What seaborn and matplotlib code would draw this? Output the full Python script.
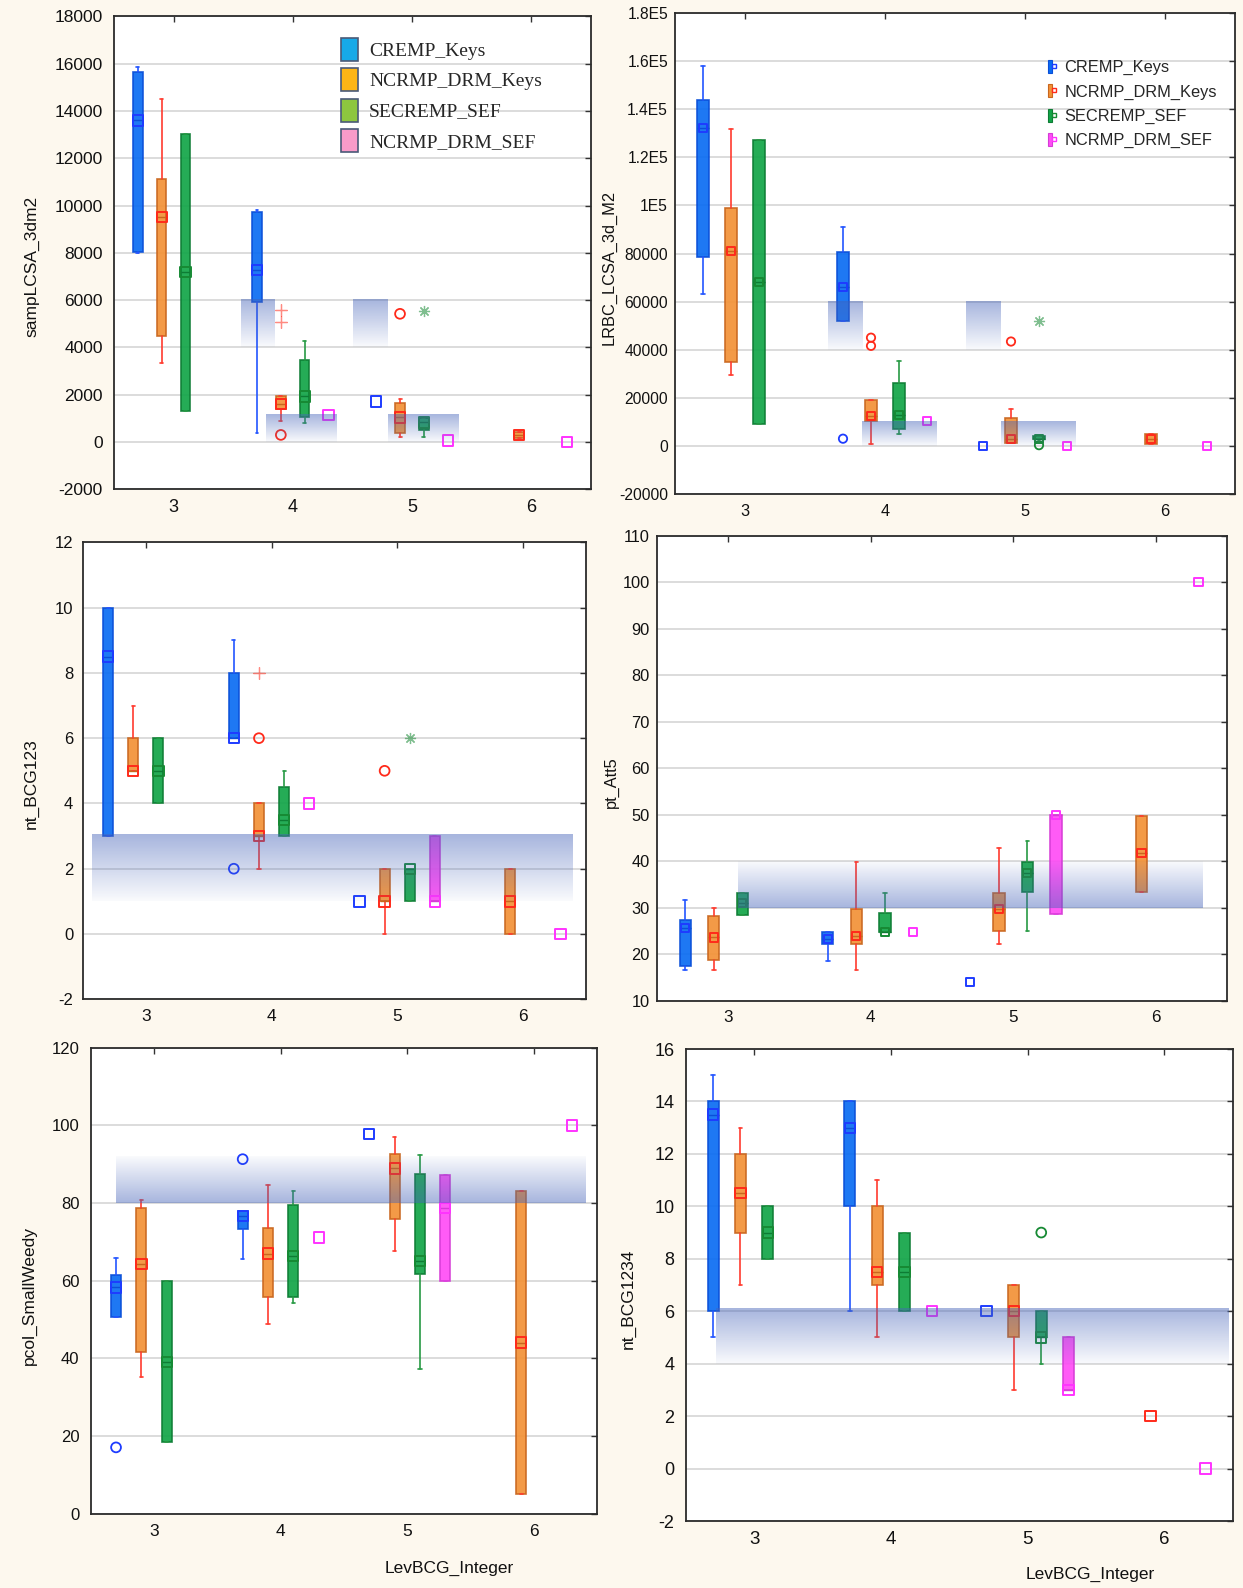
import numpy as np
import pandas as pd
import seaborn as sns
import matplotlib.pyplot as plt
from matplotlib import font_manager
from matplotlib.patches import Patch
from matplotlib.lines import Line2D
from matplotlib.legend_handler import HandlerTuple

LEVELS = [3, 4, 5, 6]
SERIES = ['CREMP_Keys', 'NCRMP_DRM_Keys', 'SECREMP_SEF', 'NCRMP_DRM_SEF']

# box stats per level (whislo, q1, med, q3, whishi); None = no sites at that level
# sampLCSA_3dm2
LCSA_CREMP = [(8000, 8040, 13600, 15630, 15850), (370, 5910, 7270, 9720, 9800), (1715, 1715, 1715, 1715, 1715), None]
LCSA_DRMK = [(3340, 4470, 9510, 11100, 14500), (870, 1390, 1600, 1950, 1950), (200, 370, 1040, 1650, 1830), (150, 150, 300, 420, 420)]
LCSA_SEC = [(1330, 1330, 7200, 13030, 13030), (800, 1050, 1930, 3450, 4290), (200, 515, 825, 1010, 1010), None]
LCSA_DRMS = [None, (1150, 1150, 1150, 1150, 1150), (60, 60, 60, 60, 60), (0, 0, 0, 0, 0)]
LCSA_OUT = [('NCRMP_DRM_Keys', 4, 300, 'o'), ('NCRMP_DRM_Keys', 4, 5600, '+'), ('NCRMP_DRM_Keys', 4, 5080, '+'),
            ('NCRMP_DRM_Keys', 5, 5420, 'o'), ('SECREMP_SEF', 5, 5530, '*')]
LCSA_BANDS = [(3.565, 3.845, 4000, 6000, 'top'), (4.505, 4.795, 4000, 6000, 'top'),
              (3.775, 4.37, 0, 1150, 'top'), (4.795, 5.39, 0, 1150, 'top')]

# LRBC_LCSA_3d_M2
LRBC_CREMP = [(63300, 78500, 132000, 144000, 158000), (52000, 52000, 66000, 80500, 91000), (0, 0, 0, 0, 0), None]
LRBC_DRMK = [(29500, 35000, 81000, 99000, 131600), (900, 10300, 12400, 19000, 19000), (1300, 1300, 3000, 11400, 15500), (600, 600, 2700, 5000, 5000)]
LRBC_SEC = [(9200, 9200, 68300, 127000, 127000), (4800, 6900, 13000, 26300, 35400), (2700, 2700, 3000, 4000, 4000), None]
LRBC_DRMS = [None, (10300, 10300, 10300, 10300, 10300), (0, 0, 0, 0, 0), (0, 0, 0, 0, 0)]
LRBC_OUT = [('CREMP_Keys', 4, 3000, 'o'), ('NCRMP_DRM_Keys', 4, 45000, 'o'), ('NCRMP_DRM_Keys', 4, 41600, 'o'),
            ('NCRMP_DRM_Keys', 5, 43400, 'o'), ('SECREMP_SEF', 5, 300, 'o'), ('SECREMP_SEF', 5, 52000, '*')]
LRBC_BANDS = [(3.59, 3.835, 40000, 60000, 'top'), (4.575, 4.825, 40000, 60000, 'top'),
              (3.835, 4.37, 0, 10000, 'top'), (4.825, 5.36, 0, 10000, 'top')]

# nt_BCG123
BCG3_CREMP = [(3, 3, 8.5, 10, 10), (6, 6, 6, 8, 9), (1, 1, 1, 1, 1), None]
BCG3_DRMK = [(5, 5, 5, 6, 7), (2, 3, 3, 4, 4), (0, 1, 1, 2, 2), (0, 0, 1, 2, 2)]
BCG3_SEC = [(4, 4, 5, 6, 6), (3, 3, 3.5, 4.5, 5), (1, 1, 2, 2, 2), None]
BCG3_DRMS = [None, (4, 4, 4, 4, 4), (1, 1, 1, 3, 3), (0, 0, 0, 0, 0)]
BCG3_OUT = [('CREMP_Keys', 4, 2, 'o'), ('NCRMP_DRM_Keys', 4, 6, 'o'), ('NCRMP_DRM_Keys', 4, 8, '+'),
            ('NCRMP_DRM_Keys', 5, 5, 'o'), ('SECREMP_SEF', 5, 6, '*')]
BCG3_BANDS = [(2.57, 6.39, 1, 3.05, 'top')]

# pt_Att5
ATT5_CREMP = [(16.5, 17.5, 25.6, 27.4, 31.7), (18.6, 22.2, 23.3, 24.7, 24.7), (14.1, 14.1, 14.1, 14.1, 14.1), None]
ATT5_DRMK = [(16.5, 18.8, 23.6, 28.3, 29.9), (16.5, 22.2, 24.0, 29.7, 39.9), (22.1, 24.9, 29.7, 33.1, 42.8), (33.3, 33.3, 41.7, 49.8, 49.8)]
ATT5_SEC = [(28.5, 28.5, 31.0, 33.1, 33.1), (24.8, 24.8, 24.8, 28.9, 33.2), (24.9, 33.3, 37.4, 39.8, 44.3), None]
ATT5_DRMS = [None, (24.7, 24.7, 24.7, 24.7, 24.7), (28.7, 28.7, 50.0, 50.0, 50.0), (100, 100, 100, 100, 100)]
ATT5_OUT = []
ATT5_BANDS = [(3.07, 6.33, 30, 40, 'bottom')]

# pcol_SmallWeedy
WEEDY_CREMP = [(50.7, 50.7, 58.3, 61.6, 65.8), (65.6, 73.2, 76.6, 77.9, 77.9), (97.7, 97.7, 97.7, 97.7, 97.7), None]
WEEDY_DRMK = [(35.3, 41.6, 64.4, 78.8, 80.8), (48.8, 55.8, 67.0, 73.5, 84.7), (67.7, 76.0, 88.9, 92.7, 96.9), (5.1, 5.1, 44.1, 83.0, 83.0)]
WEEDY_SEC = [(18.5, 18.5, 39.0, 60.0, 60.0), (54.4, 55.8, 66.4, 79.4, 83.1), (37.4, 61.7, 65.1, 87.5, 92.5), None]
WEEDY_DRMS = [None, (71.1, 71.1, 71.1, 71.1, 71.1), (60.0, 60.0, 78.7, 87.2, 87.2), (100, 100, 100, 100, 100)]
WEEDY_OUT = [('CREMP_Keys', 3, 17.1, 'o'), ('CREMP_Keys', 4, 91.3, 'o')]
WEEDY_BANDS = [(2.70, 6.41, 80, 92, 'bottom')]

# nt_BCG1234
BCG4_CREMP = [(5, 6, 13.5, 14, 15), (6, 10, 13, 14, 14), (6, 6, 6, 6, 6), None]
BCG4_DRMK = [(7, 9, 10.5, 12, 13), (5, 7, 7.5, 10, 11), (3, 5, 6, 7, 7), (2, 2, 2, 2, 2)]
BCG4_SEC = [(8, 8, 9, 10, 10), (6, 6, 7.5, 9, 9), (4, 5, 5, 6, 6), None]
BCG4_DRMS = [None, (6, 6, 6, 6, 6), (3, 3, 3, 5, 5), (0, 0, 0, 0, 0)]
BCG4_OUT = [('SECREMP_SEF', 5, 9, 'o')]
BCG4_BANDS = [(2.72, 6.47, 4, 6.1, 'top')]

LRBC_TICKLABELS = ['-20000', '0', '20000', '40000', '60000', '80000', '1E5', '1.2E5', '1.4E5', '1.6E5', '1.8E5']

# styling
OFFSETS = [-0.3, -0.1, 0.1, 0.3]
FACE = ['#0A6CF2', '#F39237', '#12A548', '#FF4DF6']
EDGE = ['#0A4FD8', '#C9661E', '#0D7C34', '#D63CD6']
WHISK = ['#2355FF', '#FF3B2F', '#279A44', '#E040E0']
MARK = ['#1E3CFF', '#FF2A1A', '#178A34', '#FF33FF']
LEG1 = ['#17A9E8', '#FDB515', '#8DC63F', '#F99BC9']
BG = '#FDF8EE'
W, H = 1243, 1588

sns.set_theme(style='white')
REGULAR = ['Liberation Sans', 'DejaVu Sans']
plt.rcParams['font.family'] = REGULAR

# narrow face for the two right-hand Statistica panels, if one is installed
installed = {f.name for f in font_manager.fontManager.ttflist}
if 'Liberation Sans Narrow' in installed:
    NARROW, NSCALE = ['Liberation Sans Narrow', 'DejaVu Sans'], 1.0
else:
    NARROW, NSCALE = REGULAR, 0.94

rows = []
for var, lists in [('LCSA', [LCSA_CREMP, LCSA_DRMK, LCSA_SEC, LCSA_DRMS]),
                   ('LRBC', [LRBC_CREMP, LRBC_DRMK, LRBC_SEC, LRBC_DRMS]),
                   ('BCG3', [BCG3_CREMP, BCG3_DRMK, BCG3_SEC, BCG3_DRMS]),
                   ('ATT5', [ATT5_CREMP, ATT5_DRMK, ATT5_SEC, ATT5_DRMS]),
                   ('WEEDY', [WEEDY_CREMP, WEEDY_DRMK, WEEDY_SEC, WEEDY_DRMS]),
                   ('BCG4', [BCG4_CREMP, BCG4_DRMK, BCG4_SEC, BCG4_DRMS])]:
    for name, vals in zip(SERIES, lists):
        for lev, s in zip(LEVELS, vals):
            if s is None:
                continue
            rows.append(dict(var=var, series=name, level=lev, whislo=s[0], q1=s[1], med=s[2], q3=s[3], whishi=s[4]))
stats = pd.DataFrame(rows)

OUTS = {'LCSA': LCSA_OUT, 'LRBC': LRBC_OUT, 'BCG3': BCG3_OUT, 'ATT5': ATT5_OUT, 'WEEDY': WEEDY_OUT, 'BCG4': BCG4_OUT}
BANDS = {'LCSA': LCSA_BANDS, 'LRBC': LRBC_BANDS, 'BCG3': BCG3_BANDS, 'ATT5': ATT5_BANDS, 'WEEDY': WEEDY_BANDS, 'BCG4': BCG4_BANDS}

# panel layout in pixels: left, right, top, bottom
PANELS = [
    dict(var='LCSA', box=(114, 590.7, 16.3, 489.3), ylim=(-2000, 18000), step=2000, ylabel='sampLCSA_3dm2',
         narrow=False, fs=12.5, ypad=8, ylab=(-0.156, 0.472)),
    dict(var='LRBC', box=(675, 1235, 13, 494), ylim=(-20000, 180000), step=20000, ylabel='LRBC_LCSA_3d_M2',
         narrow=True, fs=12, ypad=5, ylab=(-0.104, 0.472)),
    dict(var='BCG3', box=(83, 585.7, 542.3, 999.3), ylim=(-2, 12), step=2, ylabel='nt_BCG123',
         narrow=False, fs=12, ypad=7, ylab=(-0.088, 0.471)),
    dict(var='ATT5', box=(656.7, 1227, 535.7, 1000.7), ylim=(10, 110), step=10, ylabel='pt_Att5',
         narrow=True, fs=12.5, ypad=5, ylab=(-0.066, 0.47)),
    dict(var='WEEDY', box=(90.7, 597.3, 1047.7, 1513.8), ylim=(0, 120), step=20, ylabel='pcol_SmallWeedy',
         narrow=False, fs=12, ypad=8, ylab=(-0.107, 0.469), xlab=(0.707, -0.101)),
    dict(var='BCG4', box=(685.7, 1232.7, 1049, 1521), ylim=(-2, 16), step=2, ylabel='nt_BCG1234',
         narrow=False, fs=13, ypad=8, ylab=(-0.091, 0.47), xlab=(0.739, -0.097)),
]


def band(ax, x0, x1, y0, y1, dark):
    n = 256
    a = np.linspace(0.03, 0.48, n)
    if dark == 'bottom':
        a = a[::-1]
    img = np.zeros((n, 2, 4))
    img[..., 0], img[..., 1], img[..., 2] = 70 / 255, 100 / 255, 185 / 255
    img[..., 3] = a[:, None]
    ax.imshow(img, extent=(x0, x1, y0, y1), origin='lower', aspect='auto', interpolation='nearest', zorder=5)


fig = plt.figure(figsize=(W / 100, H / 100), dpi=100, facecolor=BG)

for p in PANELS:
    l, r, t, b = p['box']
    ax = fig.add_axes([l / W, 1 - b / H, (r - l) / W, (b - t) / H])
    ax.set_facecolor('white')
    small = p['narrow']
    family = NARROW if small else REGULAR
    fs = p['fs'] * (NSCALE if small else 1.0)
    df = stats[stats['var'] == p['var']]

    for si, name in enumerate(SERIES):
        d = df[df['series'] == name].copy()
        d['pos'] = d['level'] + OFFSETS[si]
        boxes = d[d['whishi'] > d['whislo']]
        bx = [dict(whislo=rw.whislo, q1=rw.q1, med=rw.med, q3=rw.q3, whishi=rw.whishi, fliers=[])
              for rw in boxes.itertuples()]
        if bx:
            ax.bxp(bx, positions=list(boxes['pos']), widths=0.08, capwidths=0.025, patch_artist=True,
                   showfliers=False, manage_ticks=False,
                   boxprops=dict(facecolor=FACE[si], edgecolor=EDGE[si], linewidth=1.2, alpha=0.92),
                   whiskerprops=dict(color=WHISK[si], linewidth=1.2),
                   capprops=dict(color=WHISK[si], linewidth=1.2),
                   medianprops=dict(color=EDGE[si], linewidth=1.0))
        sns.scatterplot(x=d['pos'], y=d['med'], marker='s', s=34 if small else 55, color=MARK[si],
                        facecolor='none', edgecolor=MARK[si], linewidth=1.4, zorder=4, ax=ax, legend=False)

    out = pd.DataFrame(OUTS[p['var']], columns=['series', 'level', 'value', 'kind'])
    for row in out.itertuples():
        si = SERIES.index(row.series)
        x = row.level + OFFSETS[si]
        if row.kind == 'o':
            sns.scatterplot(x=[x], y=[row.value], marker='o', s=36 if small else 50, color=MARK[si],
                            facecolor='none', edgecolor=MARK[si], linewidth=1.3, zorder=4, ax=ax, legend=False)
        else:
            mk = (4, 2, 0) if row.kind == '+' else (8, 2, 0)
            ax.plot([x], [row.value], marker=mk, ms=8, mew=0.9, color=MARK[si], alpha=0.55, ls='none', zorder=4)

    for bd in BANDS[p['var']]:
        band(ax, *bd)

    y0, y1 = p['ylim']
    ticks = np.arange(y0, y1 + p['step'] / 2, p['step'])
    ax.set_xlim(2.5, 6.5)
    ax.set_ylim(y0, y1)
    ax.set_xticks(LEVELS)
    ax.set_xticklabels([str(v) for v in LEVELS], family=family, fontsize=fs + 0.5)
    ax.set_yticks(ticks)
    if p['var'] == 'LRBC':
        ax.set_yticklabels(LRBC_TICKLABELS, family=family, fontsize=fs)
    else:
        ax.set_yticklabels([f'{v:g}' for v in ticks], family=family, fontsize=fs)
    ax.yaxis.grid(True, color='#D9D9D9', linewidth=1.3)
    ax.xaxis.grid(False)
    ax.set_axisbelow(True)
    ax.tick_params(axis='both', direction='in', length=4, width=1, color='#333333',
                   top=True, right=True, labelcolor='#111111')
    ax.tick_params(axis='y', pad=p['ypad'])
    ax.tick_params(axis='x', pad=7)
    for s in ax.spines.values():
        s.set_color('#2B2B2B')
        s.set_linewidth(1.3)
    ax.set_ylabel(p['ylabel'], family=family, fontsize=12.5 * (NSCALE if small else 1.0), color='#111111')
    ax.yaxis.set_label_coords(*p['ylab'])
    if 'xlab' in p:
        ax.set_xlabel('LevBCG_Integer', fontsize=12.5, color='#111111')
        ax.xaxis.set_label_coords(*p['xlab'])
    else:
        ax.set_xlabel('')

    if p['var'] == 'LCSA':
        handles = [Patch(facecolor=c, edgecolor='#4A5A78', linewidth=1.2) for c in LEG1]
        ax.legend(handles, SERIES, loc='upper left', bbox_to_anchor=(0.476, 0.955), frameon=False,
                  prop={'family': ['Liberation Serif', 'DejaVu Serif'], 'size': 14},
                  handlelength=0.9, handleheight=1.45, handletextpad=0.55, labelspacing=0.38,
                  borderpad=0, borderaxespad=0)
    if p['var'] == 'LRBC':
        handles = [(Patch(facecolor=FACE[i], edgecolor=EDGE[i], linewidth=0.8),
                    Line2D([], [], marker='s', ms=3, mfc='none', mec=MARK[i], mew=1, ls='none'))
                   for i in range(4)]
        ax.legend(handles, SERIES, loc='upper left', bbox_to_anchor=(0.666, 0.902), frameon=False,
                  prop={'family': NARROW, 'size': 12.5 * NSCALE}, handler_map={tuple: HandlerTuple(ndivide=None)},
                  handlelength=0.5, handleheight=0.85, handletextpad=0.5, labelspacing=0.55,
                  borderpad=0, borderaxespad=0)

fig.savefig('out.png', dpi=100, facecolor=BG)
